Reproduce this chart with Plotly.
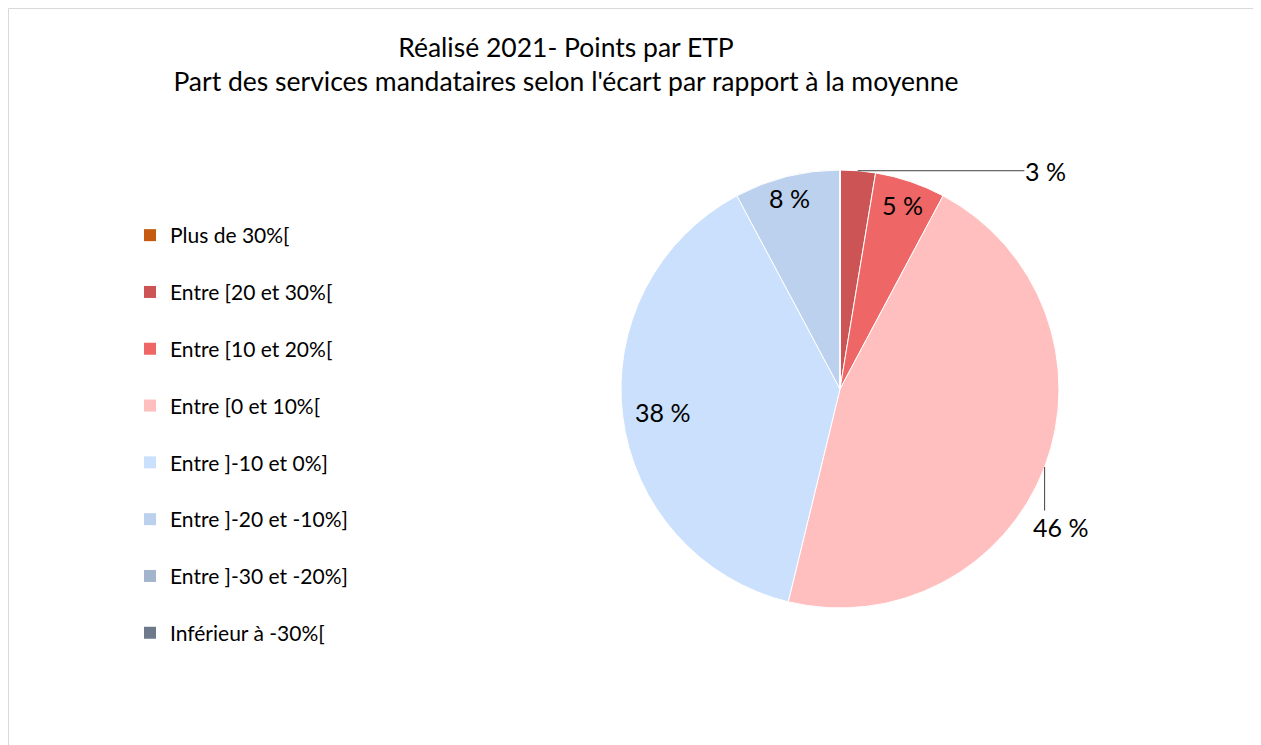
import math
import plotly.graph_objects as go

# categories in legend order, shares (sum = 100)
categories = [
    "Plus de 30%[",
    "Entre [20 et 30%[",
    "Entre [10 et 20%[",
    "Entre [0 et 10%[",
    "Entre ]-10 et 0%]",
    "Entre ]-20 et -10%]",
    "Entre ]-30 et -20%]",
    "Inférieur à -30%[",
]
shares = [0, 2.6, 5.2, 46.0, 38.4, 7.8, 0, 0]
colors = ["#C55A11", "#CD5454", "#EE6666", "#FFBFBF",
          "#CAE0FD", "#BCD1EE", "#A3B4CC", "#6E7A8C"]

# label placement per slice, relative to the rim point at the slice mid-angle:
# (text dx, text dy, leader dx, leader dy or None) in px, like Excel's best fit
label_place = {
    1: (188, 0, 168, 0),
    2: (-8, 23, None, None),
    3: (16, 60, 0, 45),
    4: (40, -4, None, None),
    5: (3, 21, None, None),
}

W, H = 1261, 745
OFF = 8  # page body margin around the plot div
FONT = "Lato, Carlito, Calibri, sans-serif"


def fx(px):
    return (px - OFF) / W


def fy(py):
    return 1 - (py - OFF) / H


# pie geometry (pixels in the page)
CX, CY, R = 840, 389, 219

fig = go.Figure()

fig.add_trace(go.Pie(
    labels=categories,
    values=shares,
    sort=False,
    direction="clockwise",
    rotation=0,
    marker=dict(colors=colors, line=dict(color="white", width=1)),
    textinfo="none",
    showlegend=False,
    hoverinfo="label+percent",
    domain=dict(x=[fx(CX - R), fx(CX + R)], y=[fy(CY + R), fy(CY - R)]),
))

# data labels, anchored at each slice's mid-angle on the rim
total = sum(shares)
annotations = []
cum = 0
for i, v in enumerate(shares):
    if v > 0 and i in label_place:
        ang = 2 * math.pi * (cum + v / 2) / total
        ex = fx(CX + R * math.sin(ang))
        ey = fy(CY - R * math.cos(ang))
        tx, ty, lx, ly = label_place[i]
        if lx is not None:
            annotations.append(dict(
                x=ex, y=ey, xref="paper", yref="paper", text="",
                showarrow=True, arrowhead=0, arrowwidth=1,
                arrowcolor="#404040", ax=lx, ay=ly,
            ))
        annotations.append(dict(
            x=ex, y=ey, xref="paper", yref="paper", text=f"{v:.0f} %",
            showarrow=False, xanchor="center", yanchor="middle",
            xshift=tx, yshift=-ty,
            font=dict(family=FONT, size=25, color="black"),
        ))
    cum += v

# legend entries as separate groups so they can be spaced like the original
for i, (name, col) in enumerate(zip(categories, colors)):
    fig.add_trace(go.Scatter(
        x=[None], y=[None], mode="markers", name=name,
        marker=dict(symbol="square", size=12, color=col),
        legendgroup=f"g{i}", showlegend=True,
    ))

fig.update_layout(
    width=W, height=H,
    margin=dict(l=0, r=0, t=0, b=0),
    paper_bgcolor="white", plot_bgcolor="white",
    font=dict(family=FONT, color="black"),
    title=dict(
        text="Réalisé 2021- Points par ETP<br>Part des services mandataires selon l'écart par rapport à la moyenne",
        x=fx(566), xanchor="center", y=fy(57), yanchor="top",
        font=dict(family=FONT, size=26.5, color="black"),
    ),
    xaxis=dict(visible=False), yaxis=dict(visible=False),
    legend=dict(
        x=fx(130), y=fy(215), xanchor="left", yanchor="top",
        font=dict(family=FONT, size=21, color="black"),
        tracegroupgap=26.5, itemwidth=30, bgcolor="rgba(0,0,0,0)",
    ),
    annotations=annotations,
    shapes=[dict(type="rect", xref="paper", yref="paper",
                 x0=0.5 / W, x1=1.05, y0=-0.05, y1=1 - 0.5 / H,
                 line=dict(color="#D9D9D9", width=1))],
)

fig.write_html("out.html")
